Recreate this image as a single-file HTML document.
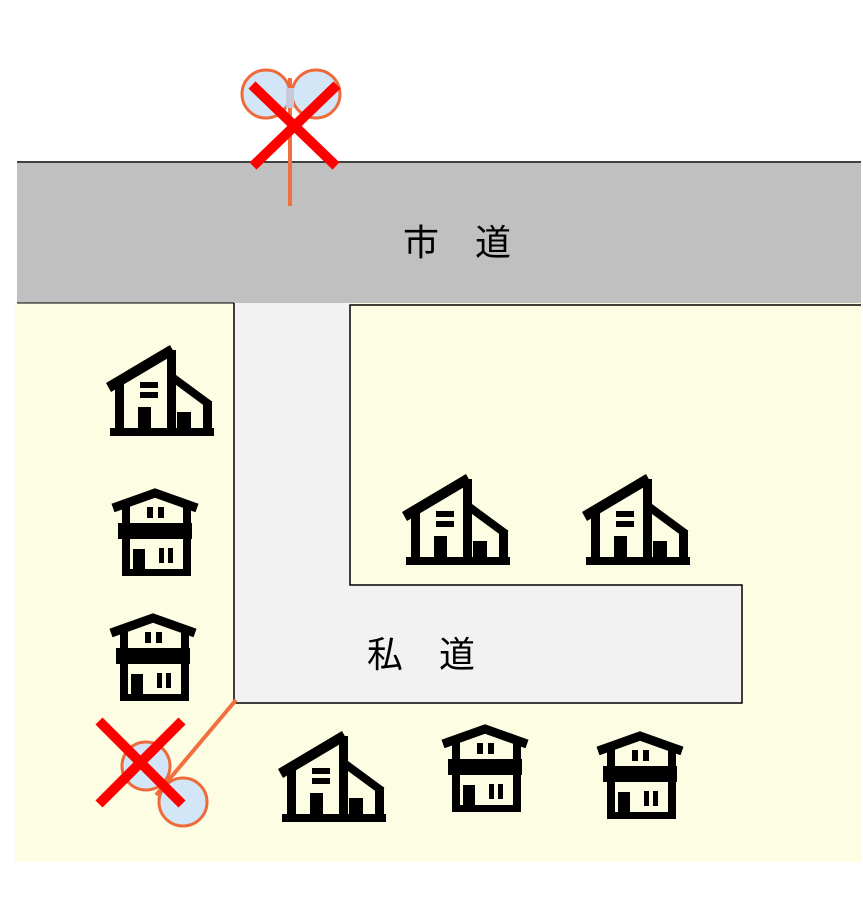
<!DOCTYPE html>
<html><head><meta charset="utf-8"><style>
html,body{margin:0;padding:0;background:#fff;}
svg{display:block;}
text{font-family:"Liberation Sans","Noto Sans CJK JP",sans-serif;}
</style></head><body>
<svg width="863" height="908" viewBox="0 0 863 908" xmlns="http://www.w3.org/2000/svg">
<defs>
<g id="hA">
<rect x="4" y="83" width="104" height="8"/>
<polygon points="0,38 64,0 69,9 5,47"/>
<rect x="9" y="36" width="9" height="50"/>
<rect x="61" y="5" width="9" height="80"/>
<line x1="66" y1="32" x2="104" y2="60" stroke="#000" stroke-width="8"/>
<rect x="97" y="56" width="9" height="30"/>
<rect x="34" y="37" width="18" height="6"/>
<rect x="34" y="47" width="18" height="6"/>
<rect x="32" y="62" width="13" height="24"/>
<rect x="71" y="67" width="14" height="19"/>
</g>
<g id="hB">
<polyline points="1,18 43,3 85,18" fill="none" stroke="#000" stroke-width="9"/>
<rect x="10" y="12" width="8" height="24"/>
<rect x="71" y="12" width="8" height="24"/>
<rect x="6" y="33" width="74" height="16"/>
<rect x="10" y="49" width="8" height="36"/>
<rect x="71" y="49" width="8" height="36"/>
<rect x="10" y="79" width="69" height="7"/>
<rect x="35" y="17" width="6" height="11"/>
<rect x="46" y="17" width="6" height="11"/>
<rect x="21" y="59" width="12" height="22"/>
<rect x="47" y="58" width="5" height="15"/>
<rect x="56" y="58" width="5" height="15"/>
</g>
</defs>
<rect x="17" y="163" width="844" height="140" fill="#c0c0c0"/>
<line x1="17" y1="162" x2="861" y2="162" stroke="#000" stroke-width="1.5"/>
<rect x="15" y="303" width="846" height="559" fill="#fdfde3"/>
<polygon points="234,303 350,303 350,585 742,585 742,703 234,703" fill="#f2f2f2"/>
<polyline points="234,303 234,703 742,703 742,585 350,585 350,305 861,305" fill="none" stroke="#000" stroke-width="1.5"/>
<line x1="17" y1="303" x2="234" y2="303" stroke="#000" stroke-width="1"/>
<text x="457" y="255" font-size="36" text-anchor="middle">市　道</text>
<text x="421" y="667" font-size="36" text-anchor="middle">私　道</text>
<use href="#hA" x="106" y="345"/>
<use href="#hA" x="402" y="474"/>
<use href="#hA" x="582" y="474"/>
<use href="#hA" x="278" y="731"/>
<use href="#hB" x="112" y="490"/>
<use href="#hB" x="110" y="615"/>
<use href="#hB" x="442" y="726"/>
<use href="#hB" x="597" y="733"/>
<line x1="290" y1="78" x2="290" y2="206" stroke="#f07040" stroke-width="4"/>
<circle cx="266" cy="94" r="24" fill="#d2e6f7" stroke="#ee6a3a" stroke-width="3"/>
<circle cx="316" cy="94" r="24" fill="#d2e6f7" stroke="#ee6a3a" stroke-width="3"/>
<rect x="286" y="88" width="8" height="20" fill="#c8c8d8"/>
<line x1="252" y1="85" x2="336" y2="166" stroke="#f00" stroke-width="10"/>
<line x1="337" y1="85" x2="253" y2="166" stroke="#f00" stroke-width="10"/>
<line x1="236" y1="700" x2="156" y2="795" stroke="#f07040" stroke-width="4"/>
<circle cx="146" cy="766" r="24" fill="#d2e6f7" stroke="#ee6a3a" stroke-width="3"/>
<circle cx="183" cy="802" r="24" fill="#d2e6f7" stroke="#ee6a3a" stroke-width="3"/>
<line x1="99" y1="721" x2="182" y2="804" stroke="#f00" stroke-width="10"/>
<line x1="182" y1="721" x2="99" y2="804" stroke="#f00" stroke-width="10"/>
</svg>
</body></html>
